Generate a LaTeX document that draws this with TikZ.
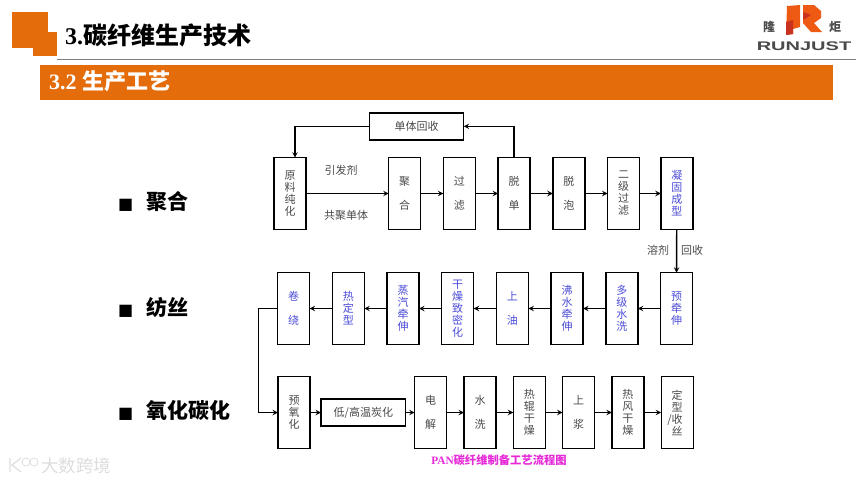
\documentclass[tikz,border=0pt]{standalone}
\usepackage{fontspec}
\usepackage{xcolor}
\setmainfont{Liberation Serif}
\newfontfamily\cjk{Noto Sans CJK SC}
\newfontfamily\symfont{DejaVu Sans}
\newfontfamily\logofont{Liberation Sans}
\usetikzlibrary{arrows, positioning}
\definecolor{bandorange}{HTML}{E46C0A}
\definecolor{stepgray}{HTML}{4A4A4A}
\definecolor{stepblue}{HTML}{4B4BD8}
\definecolor{rulegray}{HTML}{7F7F7F}
\definecolor{markgray}{HTML}{DDDDDD}
\definecolor{capmagenta}{HTML}{E62AD8}
\definecolor{logoorange}{HTML}{EE5A14}
\definecolor{logored}{HTML}{C8321E}
\begin{document}
\begin{tikzpicture}[
    x=1pt, y=1pt,
    node distance=22.7pt and 22.7pt,
    block/.style={rectangle, draw=black, line width=1.4pt, fill=white, minimum width=32pt, minimum height=71.5pt, inner sep=0pt, outer sep=0pt, align=center, text=stepgray, font=\cjk\fontsize{11}{12}\selectfont},
    blueblock/.style={block, text=stepblue},
    wideblock/.style={block, minimum height=27pt},
    note/.style={inner sep=0pt, text=stepgray, font=\cjk\fontsize{11}{13}\selectfont},
    stage/.style={inner sep=0pt, anchor=west, font=\cjk\bfseries\fontsize{21}{24}\selectfont},
    arrow/.style={line width=1.4pt,->,>=stealth}
]
    \useasboundingbox (0,0) rectangle (865,-482);

    \fill [bandorange] (12,-12) rectangle (47.5,-47.5);
    \fill [bandorange] (33,-32) rectangle (57,-56);
    \draw [rulegray, line width=0.8pt] (57,-59.5) -- (856,-59.5);
    \node [inner sep=0pt, anchor=west] (title) at (65,-35) {\fontsize{24}{26}\selectfont\bfseries 3.{\cjk 碳纤维生产技术}};
    \node [fill=bandorange, minimum width=793pt, minimum height=35pt, inner sep=0pt, anchor=north west] (band) at (40,-64.3) {};
    \node [inner sep=0pt, anchor=west, text=white] (subtitle) at (49,-81.5) {\fontsize{22}{24}\selectfont\bfseries 3.2 {\cjk 生产工艺}};

    \fill [logoorange] (787,-6) -- (800,-5) -- (800,-27) -- (793,-29) -- (793,-34) -- (786,-35) -- cycle;
    \fill [logored] (786,-22) -- (793,-20) -- (793,-34) -- (786,-35) -- cycle;
    \fill [logoorange] (803,-5) -- (814,-5) -- (821,-11) -- (821,-18) -- (814,-23) -- (822,-32) -- (811,-32) -- (803,-23) -- cycle;
    \fill [logored] (803,-12) -- (811,-15) -- (803,-20) -- cycle;
    \node [inner sep=0pt, font=\cjk\bfseries\fontsize{12}{13}\selectfont, text=stepgray] (logoleft) at (769,-27) {隆};
    \node [inner sep=0pt, font=\cjk\bfseries\fontsize{12}{13}\selectfont, text=stepgray] (logoright) at (835,-27) {炬};
    \node [inner sep=0pt, text=stepgray] (logoname) at (804,-46.5) {\scalebox{1.6}[1]{\logofont\bfseries\fontsize{12.5}{14}\selectfont RUNJUST}};

    \node [stage] (polymer) at (118,-201.5) {{\symfont\fontsize{16}{16}\selectfont ■}\hspace{13pt}聚合};
    \node [stage] (spin) at (118,-307) {{\symfont\fontsize{16}{16}\selectfont ■}\hspace{13pt}纺丝};
    \node [stage] (carbon) at (118,-410.5) {{\symfont\fontsize{16}{16}\selectfont ■}\hspace{13pt}氧化碳化};

    \node [block] (purify) at (290,-193.5) {原\\料\\纯\\化};
    \node [block] (polymerize) at (404.7,-193.5) {聚\\[12pt]合};
    \node [block, right=of polymerize] (filter) {过\\[12pt]滤};
    \node [block, right=of filter] (demonomer) {脱\\[12pt]单};
    \node [block, right=of demonomer] (defoam) {脱\\[12pt]泡};
    \node [block, right=of defoam] (filtertwo) {二\\级\\过\\滤};
    \node [blueblock, right=21.3pt of filtertwo] (coagulate) {凝\\固\\成\\型};
    \node [wideblock, minimum width=94.4pt] (recover) at (416.5,-126.3) {单体回收};

    \node [note] (initiator) at (341,-170.7) {引发剂};
    \node [note] (comonomer) at (346,-215) {共聚单体};
    \node [note] (solvent) at (658,-250) {溶剂};
    \node [note] (reclaim) at (692,-250) {回收};

    \node [blueblock] (prestretch) at (676.5,-308.5) {预\\牵\\伸};
    \node [blueblock, left=of prestretch] (wash) {多\\级\\水\\洗};
    \node [blueblock, left=of wash] (boil) {沸\\水\\牵\\伸};
    \node [blueblock, left=of boil] (oil) {上\\[12pt]油};
    \node [blueblock, left=of oil] (dry) {干\\燥\\致\\密\\化};
    \node [blueblock, left=of dry] (steam) {蒸\\汽\\牵\\伸};
    \node [blueblock, left=of steam] (heatset) {热\\定\\型};
    \node [blueblock, left=of heatset] (wind) {卷\\[12pt]绕};

    \node [block] (preoxid) at (294,-412.5) {预\\氧\\化};
    \node [wideblock, minimum width=84.7pt, right=11pt of preoxid] (carbonize) {低/高温炭化};
    \node [block, right=9pt of carbonize] (electro) {电\\[12pt]解};
    \node [block, right=17.3pt of electro] (rinse) {水\\[12pt]洗};
    \node [block, right=17.3pt of rinse] (roller) {热\\辊\\干\\燥};
    \node [block, right=17.3pt of roller] (size) {上\\[12pt]浆};
    \node [block, right=17.3pt of size] (hotair) {热\\风\\干\\燥};
    \node [block, right=17.3pt of hotair] (takeup) {定\\型\\\llap{/}收\\丝};

    \node [inner sep=0pt, text=capmagenta] (caption) at (499,-460) {\fontsize{11.3}{13}\selectfont\bfseries PAN{\cjk 碳纤维制备工艺流程图}};

    \node [inner sep=0pt, anchor=west, text=markgray, font=\cjk\fontsize{17.5}{20}\selectfont] (mark) at (41,-466) {大数跨境};
    \draw [markgray, line width=1.2pt] (10,-458) -- (10,-472) (21,-458) -- (12,-465) -- (21,-472);
    \draw [markgray, line width=0.8pt] (26,-462) circle (4) (34,-462) circle (4);

    \coordinate (downturn) at (258.3,-412.5);
    \coordinate (recoverturn) at (295,-126.3);
    \coordinate (monomerturn) at (514,-126.3);
    \coordinate (purifytop) at (295,-157.7);
    \coordinate (demonomertop) at (514,-157.7);

    \draw [arrow] (purify) -- (polymerize);
    \draw [arrow] (polymerize) -- (filter);
    \draw [arrow] (filter) -- (demonomer);
    \draw [arrow] (demonomer) -- (defoam);
    \draw [arrow] (defoam) -- (filtertwo);
    \draw [arrow] (filtertwo) -- (coagulate);
    \draw [arrow] (demonomertop) -- (monomerturn) -- (recover);
    \draw [arrow] (recover) -- (recoverturn) -- (purifytop);
    \draw [arrow] (coagulate) -- (prestretch);
    \draw [arrow] (prestretch) -- (wash);
    \draw [arrow] (wash) -- (boil);
    \draw [arrow] (boil) -- (oil);
    \draw [arrow] (oil) -- (dry);
    \draw [arrow] (dry) -- (steam);
    \draw [arrow] (steam) -- (heatset);
    \draw [arrow] (heatset) -- (wind);
    \draw [arrow] (wind) -| (downturn) -- (preoxid);
    \draw [arrow] (preoxid) -- (carbonize);
    \draw [arrow] (carbonize) -- (electro);
    \draw [arrow] (electro) -- (rinse);
    \draw [arrow] (rinse) -- (roller);
    \draw [arrow] (roller) -- (size);
    \draw [arrow] (size) -- (hotair);
    \draw [arrow] (hotair) -- (takeup);
\end{tikzpicture}
\end{document}
